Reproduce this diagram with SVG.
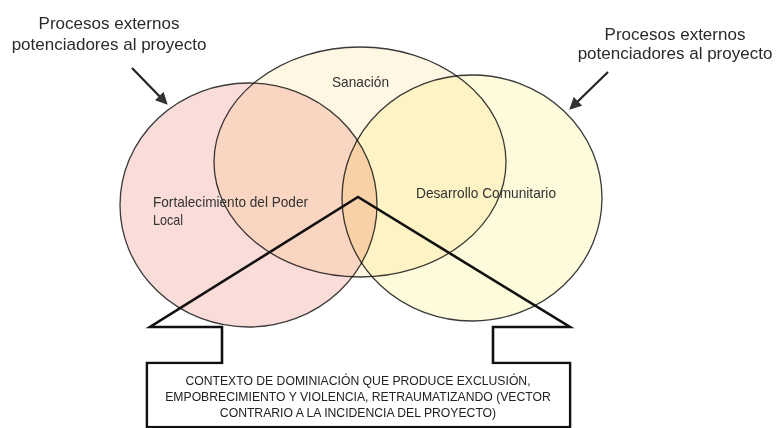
<svg xmlns="http://www.w3.org/2000/svg" width="778" height="428" viewBox="0 0 778 428">
<style>
.c{stroke:#3a3a3a;stroke-width:1.3;mix-blend-mode:multiply}
.lbl{font-family:"Liberation Sans",Arial,sans-serif;fill:#333;font-size:14.5px}
.hd{font-family:"Liberation Sans",Arial,sans-serif;fill:#2a2a2a;font-size:17px;text-anchor:middle}
.bx{font-family:"Liberation Sans",Arial,sans-serif;fill:#222;font-size:12.2px;text-anchor:middle}
.arr{stroke:#222;stroke-width:2.2}
.callout{fill:none;stroke:#111;stroke-width:2.6;stroke-linejoin:miter}
</style>
<defs>
<marker id="ah" viewBox="0 0 10 10" refX="8" refY="5" markerWidth="6" markerHeight="5.5" orient="auto" markerUnits="strokeWidth">
<path d="M0,0 L10,5 L0,10 z" fill="#333"/>
</marker>
</defs>
<rect width="778" height="428" fill="#fff"/>
<g id="circles" style="isolation:isolate">
<g id="fortalecimiento"><ellipse class="c" cx="248.5" cy="205" rx="128.5" ry="122" fill="#fadcd8"/></g>
<g id="sanacion"><ellipse class="c" cx="360" cy="162" rx="146" ry="115" fill="#fff7e4"/></g>
<g id="desarrollo"><ellipse class="c" cx="472" cy="198" rx="130" ry="123" fill="#fefbdc"/></g>
</g>
<g id="labels">
<text class="lbl" x="332" y="87" textLength="57" lengthAdjust="spacingAndGlyphs">Sanación</text>
<text class="lbl" x="153" y="207" textLength="155" lengthAdjust="spacingAndGlyphs">Fortalecimiento del Poder</text>
<text class="lbl" x="153" y="225" textLength="30" lengthAdjust="spacingAndGlyphs">Local</text>
<text class="lbl" x="416" y="198" textLength="140" lengthAdjust="spacingAndGlyphs">Desarrollo Comunitario</text>
</g>
<g id="ext-left">
<text class="hd" x="109" y="29">Procesos externos</text>
<text class="hd" x="109" y="50">potenciadores al proyecto</text>
</g>
<g id="ext-right">
<text class="hd" x="675" y="40">Procesos externos</text>
<text class="hd" x="675" y="59">potenciadores al proyecto</text>
</g>
<g id="connectors">
<line class="arr" x1="132" y1="68" x2="166" y2="103" marker-end="url(#ah)"/>
<line class="arr" x1="608" y1="72" x2="571" y2="108" marker-end="url(#ah)"/>
</g>
<g id="contexto">
<path class="callout" d="M147,363 L222,363 L222,327 L150,327 L358,197 L570,327 L493,327 L493,363 L570,363 L570,427 L147,427 Z" fill="none"/>
<rect x="148.3" y="364.3" width="420.4" height="61.4" fill="#fff"/>
<text class="bx" x="358" y="385">CONTEXTO DE DOMINIACIÓN QUE PRODUCE EXCLUSIÓN,</text>
<text class="bx" x="358" y="401">EMPOBRECIMIENTO Y VIOLENCIA, RETRAUMATIZANDO (VECTOR</text>
<text class="bx" x="358" y="417">CONTRARIO A LA INCIDENCIA DEL PROYECTO)</text>
</g>
</svg>
